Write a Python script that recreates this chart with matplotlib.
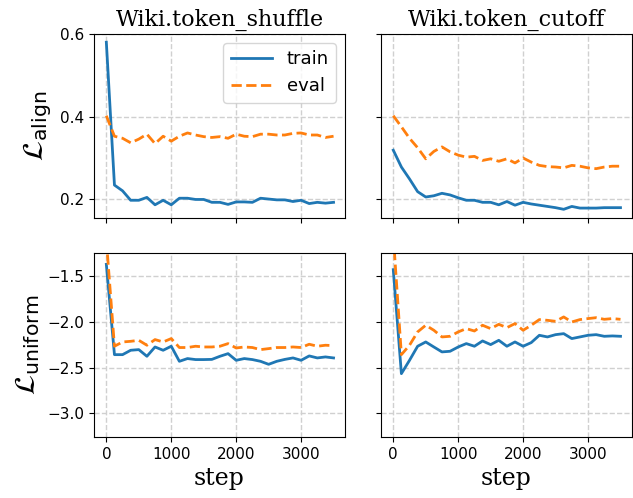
import numpy as np
import matplotlib
matplotlib.use("Agg")
import matplotlib.pyplot as plt

# ── Data ──────────────────────────────────────────────────────────────────────

steps = np.arange(0, 3501, 125)

titles = ["Wiki.token_shuffle", "Wiki.token_cutoff"]

align_train_shuffle = [0.581, 0.233, 0.219, 0.196, 0.196, 0.203, 0.185, 0.196, 0.185, 0.201,
                       0.201, 0.198, 0.198, 0.191, 0.191, 0.186, 0.192, 0.192, 0.191, 0.201,
                       0.199, 0.197, 0.197, 0.193, 0.196, 0.188, 0.191, 0.189, 0.191]
align_eval_shuffle = [0.402, 0.352, 0.347, 0.336, 0.345, 0.357, 0.334, 0.352, 0.340, 0.352,
                      0.360, 0.355, 0.351, 0.349, 0.351, 0.347, 0.357, 0.352, 0.351, 0.357,
                      0.357, 0.355, 0.355, 0.359, 0.360, 0.355, 0.355, 0.349, 0.352]
align_train_cutoff = [0.318, 0.277, 0.248, 0.217, 0.204, 0.207, 0.213, 0.209, 0.202, 0.196,
                      0.196, 0.191, 0.191, 0.185, 0.193, 0.184, 0.191, 0.187, 0.184, 0.181,
                      0.178, 0.174, 0.181, 0.177, 0.177, 0.177, 0.178, 0.178, 0.178]
align_eval_cutoff = [0.402, 0.375, 0.347, 0.324, 0.297, 0.315, 0.326, 0.314, 0.306, 0.301,
                     0.303, 0.293, 0.297, 0.291, 0.297, 0.287, 0.299, 0.289, 0.281, 0.278,
                     0.277, 0.275, 0.281, 0.279, 0.275, 0.273, 0.277, 0.279, 0.279]

uniform_train_shuffle = [-1.369, -2.358, -2.358, -2.310, -2.303, -2.376, -2.274, -2.310, -2.266, -2.431,
                         -2.401, -2.412, -2.412, -2.410, -2.376, -2.347, -2.420, -2.401, -2.412, -2.431,
                         -2.464, -2.431, -2.410, -2.394, -2.420, -2.372, -2.394, -2.383, -2.394]
uniform_eval_shuffle = [-1.100, -2.266, -2.219, -2.212, -2.201, -2.255, -2.193, -2.219, -2.182, -2.280,
                        -2.280, -2.266, -2.274, -2.274, -2.266, -2.237, -2.285, -2.274, -2.280, -2.303,
                        -2.292, -2.280, -2.280, -2.274, -2.280, -2.244, -2.266, -2.255, -2.259]
uniform_train_cutoff = [-1.427, -2.566, -2.420, -2.266, -2.219, -2.274, -2.328, -2.321, -2.274, -2.237,
                        -2.266, -2.208, -2.248, -2.201, -2.266, -2.219, -2.266, -2.226, -2.146, -2.164,
                        -2.139, -2.128, -2.182, -2.164, -2.146, -2.139, -2.157, -2.153, -2.157]
uniform_eval_cutoff = [-1.050, -2.358, -2.255, -2.109, -2.036, -2.091, -2.164, -2.157, -2.109, -2.073,
                       -2.099, -2.036, -2.073, -2.026, -2.062, -2.018, -2.091, -2.036, -1.974, -1.982,
                       -1.993, -1.945, -2.000, -1.974, -1.963, -1.953, -1.971, -1.963, -1.971]

align = [(align_train_shuffle, align_eval_shuffle), (align_train_cutoff, align_eval_cutoff)]
uniform = [(uniform_train_shuffle, uniform_eval_shuffle), (uniform_train_cutoff, uniform_eval_cutoff)]

# ── Plot ──────────────────────────────────────────────────────────────────────

fig, axes = plt.subplots(2, 2, figsize=(6.33, 4.98), dpi=100, sharex=True, sharey="row")
fig.subplots_adjust(left=0.1485, right=0.9984, top=0.9317, bottom=0.1225,
                    wspace=0.143, hspace=0.196)

for col in range(2):
    for row, series in enumerate([align, uniform]):
        ax = axes[row, col]
        train, evl = series[col]
        ax.plot(steps, train, color="C0", linewidth=2, label="train")
        ax.plot(steps, evl, color="C1", linewidth=2, linestyle="--", label="eval")
        ax.grid(True, linestyle="--", color="#d0d0d0", linewidth=1)
        ax.set_axisbelow(True)
        ax.tick_params(labelsize=11)
    axes[0, col].set_title(titles[col], fontsize=16, family="DejaVu Serif")
    axes[1, col].set_xlabel("step", fontsize=17, family="DejaVu Serif")

axes[0, 0].set_ylim(0.154, 0.601)
axes[0, 0].set_yticks([0.2, 0.4, 0.6])
axes[1, 0].set_ylim(-3.26, -1.25)
axes[1, 0].set_yticks([-3.0, -2.5, -2.0, -1.5])
axes[1, 0].set_xlim(-190, 3677)
axes[1, 0].set_xticks([0, 1000, 2000, 3000])

axes[0, 0].set_ylabel(r"$\mathcal{L}_{\mathrm{align}}$", fontsize=21)
axes[1, 0].set_ylabel(r"$\mathcal{L}_{\mathrm{uniform}}$", fontsize=21)

axes[0, 0].legend(loc="upper right", fontsize=13, handlelength=2.3)

fig.savefig("out.png", dpi=100)
